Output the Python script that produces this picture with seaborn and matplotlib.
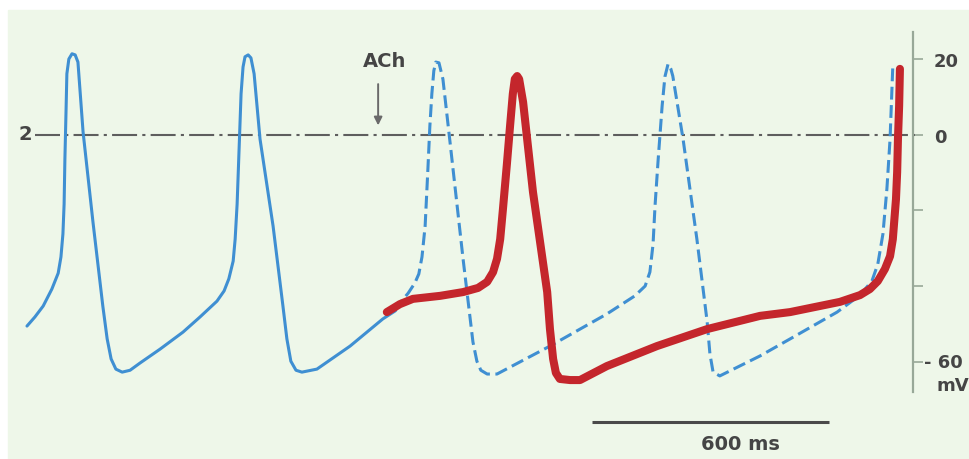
import numpy as np
import pandas as pd
import matplotlib
matplotlib.use('Agg')
import matplotlib.pyplot as plt
import matplotlib.transforms as mtransforms
import seaborn as sns

# ── data (time in ms, membrane potential in mV) ────────────────────
# control pacemaker potential (solid blue)
ctrl_t = [5, 25, 46, 68, 84, 91, 96, 99, 101, 104, 106, 111, 119, 127, 134, 139,
          147, 172, 197, 208, 218, 230, 246, 266, 291, 342, 400, 443, 486, 504,
          516, 527, 532, 537, 542, 547, 552, 557, 565, 572, 580, 595, 628, 653,
          663, 673, 686, 701, 739, 823, 906, 937]
ctrl_v = [-50.6, -48.2, -45.3, -40.8, -36.6, -32.3, -26.2, -18.3, -6.4, 6.9,
          16.2, 20.1, 21.5, 21.2, 19.3, 12.2, 0.8, -23.0, -45.3, -54.0, -59.3,
          -62.0, -62.8, -62.3, -60.4, -56.7, -52.2, -48.2, -44.0, -41.3, -38.1,
          -33.4, -27.6, -18.3, -3.7, 10.9, 18.0, 20.7, 21.2, 20.4, 16.2, -1.1,
          -24.1, -45.3, -54.0, -59.9, -62.3, -62.8, -62.0, -55.9, -48.7, -46.6]

# control continued without ACh (dashed blue)
cont_t = [937, 949, 970, 987, 997, 1005, 1013, 1020, 1025, 1030, 1035, 1040,
          1048, 1058, 1076, 1109, 1134, 1144, 1154, 1170, 1195, 1329, 1473, 1544,
          1570, 1582, 1590, 1595, 1603, 1613, 1620, 1628, 1635, 1640, 1666, 1701,
          1727, 1734, 1742, 1759, 1861, 1937, 2056, 2114, 2144, 2159, 2172, 2182,
          2190, 2197]
cont_v = [-46.6, -44.5, -41.9, -39.2, -36.8, -32.3, -24.1, -9.0, 2.4, 10.9,
          17.0, 19.3, 19.1, 14.8, -1.9, -32.8, -54.8, -59.9, -62.3, -63.3, -63.3,
          -55.9, -47.4, -42.6, -40.0, -36.3, -28.9, -18.8, -6.4, 7.7, 15.4, 18.8,
          17.5, 15.6, -1.1, -27.6, -49.5, -58.0, -62.8, -63.8, -58.5, -54.0,
          -46.9, -42.4, -38.7, -34.2, -26.2, -14.3, -1.1, 18.3]

# with acetylcholine (thick red)
ach_t = [916, 949, 982, 1051, 1109, 1147, 1170, 1185, 1195, 1203, 1210, 1220,
         1228, 1235, 1240, 1246, 1251, 1261, 1286, 1322, 1329, 1337, 1344, 1354,
         1380, 1405, 1473, 1600, 1727, 1861, 1937, 2063, 2114, 2139, 2159, 2177,
         2190, 2197, 2205, 2208, 2210, 2213, 2215]
ach_v = [-46.9, -44.8, -43.4, -42.6, -41.6, -40.5, -38.9, -36.3, -32.8, -27.6,
         -19.6, -7.7, 2.4, 10.9, 14.8, 15.6, 14.8, 8.7, -15.1, -41.6, -51.4,
         -59.3, -63.0, -64.6, -64.9, -64.9, -61.2, -55.9, -51.4, -47.9, -46.9,
         -44.2, -42.4, -40.8, -38.7, -35.5, -32.1, -27.6, -17.0, -9.8, -1.1, 7.7,
         17.5]

mv_ticks = [20, 0, -20, -40, -60]
mv_labels = ['20', '0', '', '', '- 60']
ach_time = 900
scale_start, scale_len = 1435, 600

# ── style ─────────────────────────────────────────────────────────
sns.set_theme(style='white')
plt.rcParams['font.family'] = ['Liberation Sans Narrow', 'DejaVu Sans']
bg = '#eef7e9'
ink = '#454545'
blue = '#3f8fd2'
red = '#c4262c'

fig = plt.figure(figsize=(9.7, 4.6), dpi=100)
fig.patch.set_facecolor('white')
fig.patches.append(plt.Rectangle((8 / 970, 0), 1, (460 - 11) / 460,
                                 transform=fig.transFigure, color=bg, zorder=-10))
ax = fig.add_axes([0, 0, 1, 1])
ax.set_facecolor('none')
ax.set_xlim(-63.3, 2392.4)
ax.set_ylim(-85.8, 36.0)

# 0 mV reference line
ax.plot([25, 2253], [0, 0], color='#5e5e5e', lw=1.5,
        linestyle=(0, (12, 2.5, 1.5, 2.5)), zorder=1)
ax.text(0, 0.5, '2', ha='center', va='center', fontsize=14, color=ink,
        fontweight='bold')

# traces
ctrl = pd.DataFrame({'t': ctrl_t, 'v': ctrl_v})
cont = pd.DataFrame({'t': cont_t, 'v': cont_v})
ach = pd.DataFrame({'t': ach_t, 'v': ach_v})

sns.lineplot(data=ctrl, x='t', y='v', ax=ax, color=blue, lw=2.2,
             sort=False, estimator=None, zorder=3,
             solid_joinstyle='round', solid_capstyle='round')
sns.lineplot(data=cont, x='t', y='v', ax=ax, color=blue, lw=2.2,
             sort=False, estimator=None, zorder=3, dashes=False,
             linestyle=(0, (4.2, 1.8)), dash_joinstyle='round')
sns.lineplot(data=ach, x='t', y='v', ax=ax, color=red, lw=5.8,
             sort=False, estimator=None, zorder=4,
             solid_capstyle='round', solid_joinstyle='round')

# ACh marker
ax.text(ach_time + 10, 19.6, 'ACh', ha='center', va='center', fontsize=14,
        color=ink, fontweight='bold')
ax.annotate('', xy=(ach_time - 6, 1.8), xytext=(ach_time - 6, 14.2),
            arrowprops=dict(arrowstyle='-|>', color='#6a6a6a', lw=1.4,
                            mutation_scale=12))

# time scale bar
ax.plot([scale_start, scale_start + scale_len], [-76, -76], color='#4a4a4a',
        lw=2.2, solid_capstyle='butt')
ax.text(scale_start + scale_len / 2 + 75, -81.6, '600 ms', ha='center',
        va='center', fontsize=14, color=ink, fontweight='bold')

# mV scale on the right
for s in ['top', 'left', 'bottom']:
    ax.spines[s].set_visible(False)
ax.spines['right'].set_position(('data', 2248))
ax.spines['right'].set_bounds(-68, 27.3)
ax.spines['right'].set_color('#98a898')
ax.spines['right'].set_linewidth(1.6)
ax.spines['right'].set_visible(True)
ax.set_xticks([])
ax.yaxis.tick_right()
ax.set_yticks(mv_ticks)
ax.set_yticklabels(mv_labels)
ax.tick_params(axis='y', which='both', right=True, direction='out', length=7,
               width=1.2, color='#98a898', pad=8, labelsize=13,
               labelcolor=ink)
for lab in ax.get_yticklabels():
    lab.set_fontweight('bold')
    lab.set_horizontalalignment('left')
    if lab.get_text().startswith('-'):
        lab.set_transform(lab.get_transform() +
                          mtransforms.ScaledTranslation(-10 / 100, 0.02, fig.dpi_scale_trans))
ax.text(2348, -66.2, 'mV', ha='center', va='center', fontsize=13, color=ink,
        fontweight='bold')
ax.set_xlabel('')
ax.set_ylabel('')
if ax.get_legend():
    ax.get_legend().remove()

fig.savefig('out.png', dpi=100)
